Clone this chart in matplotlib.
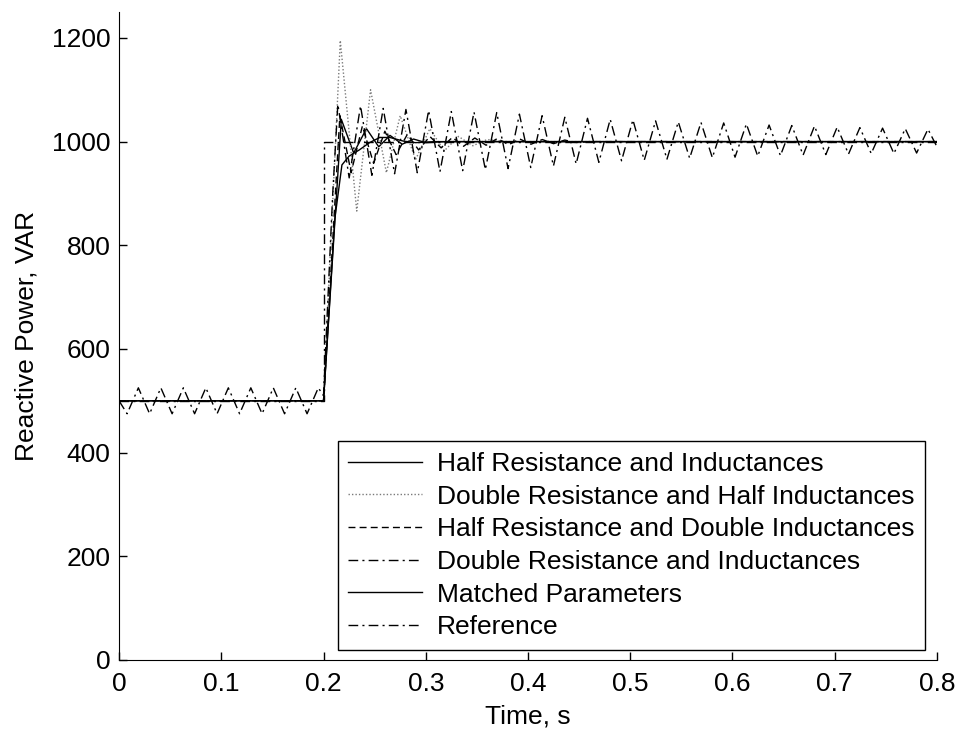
import matplotlib
matplotlib.use("Agg")
import matplotlib.pyplot as plt

plt.rcParams['font.family'] = ['Liberation Sans', 'DejaVu Sans']

# reference step
ref_t = [0.0, 0.2, 0.2, 0.8]
ref_q = [500, 500, 1000, 1000]

# half resistance and inductances (solid)
half_rl_t = [0.0, 0.2, 0.2174, 0.2295, 0.242, 0.254, 0.265, 0.277, 0.288, 0.300, 0.320, 0.8]
half_rl_q = [500, 500, 1043, 978, 1025, 990, 1012, 995, 1005, 998, 1000, 1000]

# double resistance, half inductances (dotted)
dbl_r_half_l_t = [0.0, 0.2, 0.2164, 0.2325, 0.246, 0.2615, 0.275, 0.290, 0.304, 0.318, 0.332,
                  0.346, 0.360, 0.380, 0.8]
dbl_r_half_l_q = [500, 500, 1195, 866, 1100, 940, 1050, 965, 1025, 982, 1010, 992, 1004, 1000, 1000]

# half resistance, double inductances (dashed)
half_r_dbl_l_t = [0.0, 0.2, 0.216, 0.227, 0.238, 0.249, 0.260, 0.271, 0.282, 0.293, 0.304, 0.315,
                  0.326, 0.337, 0.348, 0.359, 0.370, 0.381, 0.392, 0.403, 0.414, 0.425, 0.436,
                  0.447, 0.460, 0.8]
half_r_dbl_l_q = [500, 500, 1050, 940, 1030, 958, 1020, 975, 1014, 984, 1010, 988, 1008, 991,
                  1007, 993, 1006, 994, 1005, 995, 1004, 996, 1003, 998, 1000, 1000]

# double resistance and inductances (dash-dot), sustained oscillation
dbl_rl_t = [0.0, 0.0079, 0.0189, 0.0299, 0.0409, 0.0519, 0.0629, 0.0739, 0.0849, 0.0959,
            0.1069, 0.1179, 0.1289, 0.1399, 0.1509, 0.1619, 0.1729, 0.1839, 0.1949, 0.2,
            0.209, 0.214,
            0.2251, 0.2362, 0.2473, 0.2584, 0.2695, 0.2806, 0.2917, 0.3028, 0.3139, 0.3250,
            0.3361, 0.3472, 0.3583, 0.3694, 0.3805, 0.3916, 0.4027, 0.4138, 0.4249, 0.4360,
            0.4471, 0.4582, 0.4693, 0.4804, 0.4915, 0.5026, 0.5137, 0.5248, 0.5359, 0.5470,
            0.5581, 0.5692, 0.5803, 0.5914, 0.6025, 0.6136, 0.6247, 0.6358, 0.6469, 0.6580,
            0.6691, 0.6802, 0.6913, 0.7024, 0.7135, 0.7246, 0.7357, 0.7468, 0.7579, 0.7690,
            0.7801, 0.7912, 0.8]
dbl_rl_q = [500, 475, 525, 475, 525, 475, 525, 475, 525, 475,
            525, 475, 525, 475, 525, 475, 525, 475, 525, 510,
            900, 1072,
            930, 1069, 935, 1064, 938, 1062, 940, 1060, 942, 1058,
            944, 1057, 946, 1056, 948, 1053, 950, 1050, 953, 1047,
            957, 1045, 960, 1043, 963, 1042, 964, 1040, 966, 1038,
            968, 1037, 969, 1036, 970, 1034, 972, 1032, 973, 1031,
            974, 1030, 975, 1028, 976, 1027, 977, 1026, 977, 1025,
            978, 1024, 990]

# matched parameters (solid)
matched_t = [0.0, 0.2, 0.205, 0.211, 0.218, 0.225, 0.235, 0.245, 0.255, 0.265, 0.278, 0.290, 0.310, 0.8]
matched_q = [500, 500, 660, 850, 955, 972, 984, 998, 1008, 1008, 1001, 998, 1000, 1000]

fs = 19

fig = plt.figure(figsize=(9.6, 7.29), dpi=100)
ax = fig.add_axes([0.124, 0.0947, 0.852, 0.8888])

lw = 1.0
dashdot = (0, (7, 3, 1.5, 3))
ax.plot(half_rl_t, half_rl_q, color='black', lw=lw, ls='-', label='Half Resistance and Inductances')
ax.plot(dbl_r_half_l_t, dbl_r_half_l_q, color='#7a7a7a', lw=lw, ls=(0, (1, 1.5)),
        label='Double Resistance and Half Inductances')
ax.plot(half_r_dbl_l_t, half_r_dbl_l_q, color='black', lw=lw, ls=(0, (5, 3)),
        label='Half Resistance and Double Inductances')
ax.plot(dbl_rl_t, dbl_rl_q, color='black', lw=lw, ls=dashdot,
        label='Double Resistance and Inductances')
ax.plot(matched_t, matched_q, color='black', lw=lw, ls='-', label='Matched Parameters')
ax.plot(ref_t, ref_q, color='black', lw=lw, ls=dashdot, label='Reference')

ax.set_xlim(0, 0.8)
ax.set_ylim(0, 1250)
ax.set_xticks([0, 0.1, 0.2, 0.3, 0.4, 0.5, 0.6, 0.7, 0.8])
ax.set_xticklabels(['0', '0.1', '0.2', '0.3', '0.4', '0.5', '0.6', '0.7', '0.8'])
ax.set_yticks([0, 200, 400, 600, 800, 1000, 1200])
ax.spines['top'].set_visible(False)
ax.spines['right'].set_visible(False)
ax.tick_params(direction='in', length=6, labelsize=fs, width=1, pad=6)
ax.tick_params(axis='x', pad=9)
ax.set_xlabel('Time, s', fontsize=fs, labelpad=6)
ax.set_ylabel('Reactive Power, VAR', fontsize=fs, labelpad=10)

leg = ax.legend(loc='lower right', bbox_to_anchor=(0.985, 0.0154), borderaxespad=0,
                fontsize=fs, handlelength=2.8, labelspacing=0.33, fancybox=False,
                edgecolor='black', framealpha=1, borderpad=0.4, handletextpad=0.55)
leg.get_frame().set_linewidth(1.0)

fig.savefig('out.png', dpi=100)
